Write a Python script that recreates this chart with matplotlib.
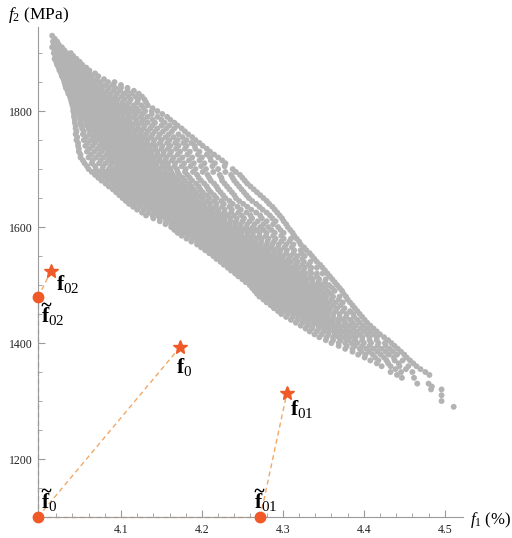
import matplotlib
matplotlib.use("Agg")
import matplotlib.pyplot as plt
import matplotlib.transforms as mtransforms
import numpy as np

plt.rcParams['font.family'] = ['Liberation Serif', 'DejaVu Serif']
plt.rcParams['mathtext.fontset'] = 'custom'
plt.rcParams['mathtext.rm'] = 'Liberation Serif'
plt.rcParams['mathtext.it'] = 'Liberation Serif:italic'
plt.rcParams['mathtext.bf'] = 'Liberation Serif:bold'

# ---------------- data ----------------
# key points (f1 in %, f2 in MPa)
f0 = (4.173, 1393)
f01 = (4.305, 1314)
f02 = (4.0136, 1524)
f0_t = (3.9975, 1100)
f01_t = (4.272, 1100)
f02_t = (3.9975, 1479)

x_ticks = [4.1, 4.2, 4.3, 4.4, 4.5]
y_ticks = [1200, 1400, 1600, 1800]

# scatter cloud, set A: rows of f2 values with their f1 values
cloud_f2_rows_a = [1930, 1920, 1910, 1900, 1890, 1880, 1870, 1860, 1850, 1840,
                   1830, 1820, 1810, 1800, 1790, 1780, 1770, 1760, 1750, 1740,
                   1730, 1720, 1710, 1700, 1690, 1680, 1670, 1660, 1650, 1640,
                   1630, 1620, 1610, 1600, 1590, 1580, 1570, 1560, 1550, 1540,
                   1530, 1520, 1510, 1500, 1490, 1480, 1470, 1460, 1450, 1440,
                   1430, 1420, 1410, 1400, 1390, 1380, 1370, 1360, 1350, 1340,
                   1330, 1320, 1310, 1300, 1290]
cloud_f1_rows_a = [
    [4.015],
    [4.016, 4.021],
    [4.015, 4.020, 4.027],
    [4.017, 4.022, 4.028, 4.033, 4.038],
    [4.018, 4.023, 4.029, 4.034, 4.040, 4.045],
    [4.021, 4.026, 4.031, 4.037, 4.042, 4.047, 4.052],
    [4.024, 4.029, 4.034, 4.039, 4.045, 4.050, 4.055, 4.061],
    [4.027, 4.032, 4.037, 4.042, 4.048, 4.053, 4.058, 4.064, 4.072],
    [4.030, 4.035, 4.040, 4.046, 4.051, 4.056, 4.062, 4.068, 4.075, 4.084, 4.092],
    [4.032, 4.038, 4.043, 4.048, 4.054, 4.059, 4.065, 4.071, 4.077, 4.085, 4.093, 4.100, 4.108],
    [4.035, 4.041, 4.046, 4.051, 4.057, 4.062, 4.068, 4.074, 4.080, 4.087, 4.095, 4.104, 4.113, 4.122],
    [4.038, 4.043, 4.049, 4.054, 4.060, 4.065, 4.071, 4.077, 4.083, 4.089, 4.096, 4.104, 4.112, 4.121, 4.129],
    [4.040, 4.046, 4.051, 4.057, 4.062, 4.068, 4.074, 4.080, 4.086, 4.092, 4.099, 4.107, 4.116, 4.125, 4.133],
    [4.041, 4.047, 4.053, 4.058, 4.064, 4.070, 4.076, 4.081, 4.087, 4.093, 4.099, 4.106, 4.114, 4.122, 4.130, 4.138, 4.145],
    [4.042, 4.049, 4.055, 4.061, 4.067, 4.072, 4.078, 4.084, 4.090, 4.096, 4.102, 4.109, 4.116, 4.124, 4.133, 4.145, 4.157],
    [4.043, 4.050, 4.057, 4.063, 4.069, 4.075, 4.081, 4.087, 4.093, 4.099, 4.105, 4.111, 4.118, 4.125, 4.133, 4.142, 4.154, 4.166],
    [4.044, 4.052, 4.060, 4.066, 4.072, 4.078, 4.084, 4.090, 4.096, 4.102, 4.108, 4.114, 4.121, 4.128, 4.136, 4.145, 4.156, 4.166, 4.175],
    [4.044, 4.053, 4.061, 4.068, 4.075, 4.081, 4.087, 4.093, 4.099, 4.105, 4.111, 4.117, 4.124, 4.131, 4.139, 4.148, 4.159, 4.171, 4.183],
    [4.045, 4.054, 4.063, 4.071, 4.078, 4.084, 4.090, 4.096, 4.102, 4.108, 4.114, 4.120, 4.126, 4.133, 4.141, 4.150, 4.160, 4.170, 4.181, 4.192],
    [4.047, 4.056, 4.065, 4.074, 4.081, 4.087, 4.093, 4.099, 4.105, 4.111, 4.117, 4.123, 4.129, 4.136, 4.143, 4.151, 4.161, 4.171, 4.181, 4.191, 4.201],
    [4.048, 4.058, 4.067, 4.076, 4.084, 4.090, 4.096, 4.102, 4.108, 4.114, 4.120, 4.126, 4.132, 4.138, 4.145, 4.153, 4.162, 4.173, 4.185, 4.197, 4.210],
    [4.050, 4.060, 4.069, 4.078, 4.086, 4.093, 4.099, 4.105, 4.111, 4.117, 4.123, 4.129, 4.135, 4.141, 4.148, 4.156, 4.165, 4.176, 4.188, 4.200, 4.210, 4.220],
    [4.055, 4.064, 4.073, 4.081, 4.089, 4.096, 4.102, 4.108, 4.114, 4.120, 4.126, 4.132, 4.138, 4.144, 4.151, 4.158, 4.167, 4.178, 4.190, 4.203, 4.216, 4.229],
    [4.060, 4.069, 4.077, 4.085, 4.092, 4.099, 4.105, 4.111, 4.117, 4.123, 4.129, 4.135, 4.141, 4.147, 4.154, 4.161, 4.169, 4.180, 4.192, 4.205, 4.220, 4.238],
    [4.068, 4.076, 4.083, 4.090, 4.097, 4.103, 4.109, 4.115, 4.121, 4.127, 4.133, 4.139, 4.145, 4.151, 4.157, 4.164, 4.172, 4.182, 4.194, 4.207, 4.222, 4.236, 4.247],
    [4.076, 4.084, 4.091, 4.098, 4.104, 4.110, 4.116, 4.122, 4.128, 4.134, 4.140, 4.146, 4.152, 4.158, 4.164, 4.171, 4.179, 4.188, 4.199, 4.211, 4.225, 4.240, 4.253],
    [4.085, 4.093, 4.100, 4.106, 4.112, 4.118, 4.124, 4.130, 4.136, 4.142, 4.148, 4.154, 4.160, 4.166, 4.172, 4.179, 4.187, 4.196, 4.206, 4.218, 4.231, 4.246, 4.260],
    [4.094, 4.102, 4.108, 4.114, 4.120, 4.126, 4.132, 4.138, 4.144, 4.150, 4.156, 4.162, 4.168, 4.174, 4.180, 4.186, 4.193, 4.201, 4.211, 4.223, 4.237, 4.252, 4.268],
    [4.102, 4.109, 4.116, 4.122, 4.128, 4.134, 4.140, 4.146, 4.152, 4.158, 4.164, 4.170, 4.176, 4.182, 4.188, 4.194, 4.201, 4.209, 4.218, 4.229, 4.242, 4.258, 4.276],
    [4.110, 4.118, 4.125, 4.131, 4.137, 4.143, 4.149, 4.155, 4.161, 4.167, 4.173, 4.179, 4.185, 4.191, 4.197, 4.203, 4.210, 4.218, 4.227, 4.238, 4.251, 4.267, 4.283],
    [4.120, 4.128, 4.135, 4.141, 4.147, 4.153, 4.159, 4.165, 4.171, 4.177, 4.183, 4.189, 4.195, 4.201, 4.207, 4.213, 4.220, 4.228, 4.237, 4.248, 4.261, 4.275, 4.290],
    [4.131, 4.139, 4.146, 4.152, 4.158, 4.164, 4.170, 4.176, 4.182, 4.188, 4.194, 4.200, 4.206, 4.212, 4.218, 4.225, 4.232, 4.240, 4.249, 4.260, 4.272, 4.284, 4.296],
    [4.148, 4.156, 4.162, 4.168, 4.174, 4.180, 4.186, 4.192, 4.198, 4.204, 4.210, 4.216, 4.222, 4.228, 4.235, 4.242, 4.250, 4.259, 4.269, 4.280, 4.291, 4.301],
    [4.162, 4.169, 4.175, 4.181, 4.187, 4.193, 4.199, 4.205, 4.211, 4.217, 4.223, 4.229, 4.235, 4.241, 4.248, 4.255, 4.263, 4.272, 4.282, 4.294, 4.306],
    [4.170, 4.177, 4.183, 4.189, 4.195, 4.201, 4.207, 4.213, 4.219, 4.225, 4.231, 4.237, 4.243, 4.249, 4.256, 4.263, 4.271, 4.280, 4.290, 4.301, 4.312],
    [4.181, 4.188, 4.194, 4.200, 4.206, 4.212, 4.218, 4.224, 4.230, 4.236, 4.242, 4.248, 4.254, 4.260, 4.267, 4.274, 4.282, 4.291, 4.301, 4.310, 4.317],
    [4.194, 4.201, 4.207, 4.213, 4.219, 4.225, 4.231, 4.237, 4.243, 4.249, 4.255, 4.261, 4.267, 4.273, 4.280, 4.287, 4.295, 4.304, 4.313, 4.322],
    [4.204, 4.211, 4.217, 4.223, 4.229, 4.235, 4.241, 4.247, 4.253, 4.259, 4.265, 4.271, 4.277, 4.283, 4.290, 4.297, 4.305, 4.314, 4.322, 4.329],
    [4.214, 4.221, 4.227, 4.233, 4.239, 4.245, 4.251, 4.257, 4.263, 4.269, 4.275, 4.281, 4.287, 4.294, 4.301, 4.309, 4.318, 4.327, 4.336],
    [4.223, 4.230, 4.236, 4.242, 4.248, 4.254, 4.260, 4.266, 4.272, 4.278, 4.284, 4.290, 4.296, 4.303, 4.310, 4.318, 4.326, 4.334, 4.342],
    [4.232, 4.239, 4.245, 4.251, 4.257, 4.263, 4.269, 4.275, 4.281, 4.287, 4.293, 4.299, 4.305, 4.312, 4.319, 4.327, 4.335, 4.342, 4.349],
    [4.241, 4.248, 4.254, 4.260, 4.266, 4.272, 4.278, 4.284, 4.290, 4.296, 4.302, 4.308, 4.314, 4.321, 4.328, 4.335, 4.342, 4.349, 4.355],
    [4.250, 4.257, 4.263, 4.269, 4.275, 4.281, 4.287, 4.293, 4.299, 4.305, 4.311, 4.317, 4.323, 4.330, 4.337, 4.345, 4.353, 4.361],
    [4.259, 4.266, 4.272, 4.278, 4.284, 4.290, 4.296, 4.302, 4.308, 4.314, 4.320, 4.326, 4.333, 4.340, 4.348, 4.357, 4.367],
    [4.265, 4.272, 4.279, 4.285, 4.291, 4.297, 4.303, 4.309, 4.315, 4.321, 4.327, 4.333, 4.340, 4.347, 4.355, 4.364, 4.373],
    [4.271, 4.279, 4.286, 4.292, 4.298, 4.304, 4.310, 4.316, 4.322, 4.328, 4.334, 4.340, 4.347, 4.354, 4.362, 4.370, 4.378],
    [4.280, 4.288, 4.295, 4.301, 4.307, 4.313, 4.319, 4.325, 4.331, 4.337, 4.343, 4.350, 4.357, 4.365, 4.374, 4.383],
    [4.289, 4.297, 4.304, 4.310, 4.316, 4.322, 4.328, 4.334, 4.340, 4.346, 4.352, 4.359, 4.367, 4.376, 4.389],
    [4.298, 4.306, 4.313, 4.319, 4.325, 4.331, 4.337, 4.343, 4.349, 4.355, 4.362, 4.370, 4.379, 4.387, 4.395],
    [4.310, 4.318, 4.325, 4.331, 4.337, 4.343, 4.349, 4.355, 4.361, 4.368, 4.375, 4.383, 4.392, 4.401],
    [4.322, 4.330, 4.337, 4.344, 4.350, 4.356, 4.362, 4.368, 4.375, 4.382, 4.390, 4.399, 4.408],
    [4.333, 4.342, 4.350, 4.357, 4.363, 4.369, 4.376, 4.383, 4.391, 4.400, 4.408, 4.416],
    [4.345, 4.354, 4.362, 4.369, 4.376, 4.383, 4.390, 4.398, 4.407, 4.416, 4.425],
    [4.360, 4.369, 4.377, 4.385, 4.392, 4.400, 4.409, 4.418, 4.426, 4.434],
    [4.377, 4.386, 4.395, 4.403, 4.412, 4.422, 4.432, 4.442],
    [4.393, 4.402, 4.411, 4.421, 4.431, 4.441, 4.450],
    [4.408, 4.418, 4.428, 4.438, 4.448, 4.457],
    [4.422, 4.433, 4.444, 4.455, 4.465],
    [4.433, 4.446, 4.460, 4.476],
    [4.447, 4.462],
    [4.466, 4.480],
    [4.483, 4.496],
    [4.496],
    [4.496],
    [4.511],
]

# scatter cloud, set B: rows in between those of set A
cloud_f2_rows_b = [1925, 1915, 1905, 1895, 1885, 1875, 1865, 1855, 1845, 1835,
                   1825, 1815, 1805, 1795, 1785, 1775, 1765, 1755, 1745, 1735,
                   1725, 1715, 1705, 1695, 1685, 1675, 1665, 1655, 1645, 1635,
                   1625, 1615, 1605, 1595, 1585, 1575, 1565, 1555, 1545, 1535,
                   1525, 1515, 1505, 1495, 1485, 1475, 1465, 1455, 1445, 1435,
                   1425, 1415, 1405, 1395, 1385, 1375, 1365, 1355, 1345, 1325]
cloud_f1_rows_b = [
    [4.018],
    [4.017, 4.023],
    [4.018, 4.024, 4.030],
    [4.019, 4.025, 4.031, 4.036, 4.041],
    [4.020, 4.026, 4.032, 4.038, 4.044, 4.049],
    [4.023, 4.028, 4.034, 4.040, 4.046, 4.052, 4.057],
    [4.026, 4.031, 4.037, 4.043, 4.049, 4.055, 4.061, 4.068],
    [4.029, 4.034, 4.040, 4.045, 4.051, 4.057, 4.063, 4.070, 4.079],
    [4.031, 4.037, 4.043, 4.049, 4.055, 4.061, 4.067, 4.074, 4.081, 4.090, 4.100],
    [4.034, 4.040, 4.046, 4.052, 4.058, 4.064, 4.070, 4.076, 4.083, 4.091, 4.099, 4.108, 4.116],
    [4.037, 4.043, 4.049, 4.055, 4.061, 4.067, 4.073, 4.079, 4.086, 4.093, 4.101, 4.109, 4.118, 4.126],
    [4.039, 4.045, 4.051, 4.057, 4.063, 4.069, 4.075, 4.081, 4.087, 4.094, 4.102, 4.110, 4.120, 4.131],
    [4.041, 4.047, 4.053, 4.059, 4.065, 4.071, 4.077, 4.083, 4.089, 4.096, 4.103, 4.111, 4.119, 4.128, 4.139],
    [4.042, 4.048, 4.054, 4.060, 4.066, 4.072, 4.078, 4.084, 4.090, 4.096, 4.103, 4.110, 4.118, 4.127, 4.138, 4.151],
    [4.043, 4.050, 4.056, 4.062, 4.068, 4.074, 4.080, 4.086, 4.092, 4.098, 4.104, 4.111, 4.119, 4.128, 4.139, 4.150, 4.161],
    [4.044, 4.051, 4.058, 4.065, 4.071, 4.077, 4.083, 4.089, 4.095, 4.101, 4.107, 4.114, 4.121, 4.129, 4.139, 4.150, 4.160, 4.170],
    [4.045, 4.054, 4.062, 4.069, 4.075, 4.081, 4.087, 4.093, 4.099, 4.105, 4.111, 4.118, 4.125, 4.133, 4.142, 4.152, 4.163, 4.179],
    [4.046, 4.057, 4.066, 4.073, 4.079, 4.085, 4.091, 4.097, 4.103, 4.109, 4.115, 4.122, 4.129, 4.137, 4.146, 4.155, 4.165, 4.176, 4.188],
    [4.047, 4.059, 4.068, 4.076, 4.082, 4.088, 4.094, 4.100, 4.106, 4.112, 4.118, 4.125, 4.132, 4.140, 4.148, 4.157, 4.167, 4.177, 4.187, 4.197],
    [4.048, 4.061, 4.071, 4.079, 4.086, 4.092, 4.098, 4.104, 4.110, 4.116, 4.122, 4.128, 4.135, 4.142, 4.150, 4.158, 4.168, 4.179, 4.192, 4.206],
    [4.050, 4.063, 4.073, 4.082, 4.089, 4.095, 4.101, 4.107, 4.113, 4.119, 4.125, 4.131, 4.138, 4.145, 4.152, 4.160, 4.170, 4.182, 4.195, 4.206, 4.215],
    [4.053, 4.065, 4.075, 4.084, 4.091, 4.098, 4.104, 4.110, 4.116, 4.122, 4.128, 4.134, 4.141, 4.148, 4.155, 4.163, 4.172, 4.184, 4.197, 4.211, 4.225],
    [4.058, 4.068, 4.078, 4.087, 4.095, 4.101, 4.107, 4.113, 4.119, 4.125, 4.131, 4.137, 4.144, 4.151, 4.158, 4.166, 4.175, 4.186, 4.199, 4.213, 4.228],
    [4.064, 4.073, 4.081, 4.088, 4.094, 4.100, 4.106, 4.112, 4.118, 4.124, 4.130, 4.136, 4.142, 4.148, 4.155, 4.162, 4.170, 4.179, 4.189, 4.201, 4.214, 4.229, 4.242],
    [4.072, 4.080, 4.087, 4.094, 4.101, 4.107, 4.113, 4.119, 4.125, 4.131, 4.137, 4.143, 4.149, 4.155, 4.161, 4.168, 4.176, 4.185, 4.196, 4.209, 4.224, 4.238, 4.250],
    [4.081, 4.089, 4.096, 4.102, 4.108, 4.114, 4.120, 4.126, 4.132, 4.138, 4.144, 4.150, 4.156, 4.162, 4.169, 4.176, 4.184, 4.193, 4.203, 4.215, 4.228, 4.243, 4.256],
    [4.090, 4.098, 4.105, 4.111, 4.117, 4.123, 4.129, 4.135, 4.141, 4.147, 4.153, 4.159, 4.165, 4.171, 4.177, 4.183, 4.190, 4.198, 4.208, 4.220, 4.234, 4.249, 4.264],
    [4.098, 4.106, 4.113, 4.119, 4.125, 4.131, 4.137, 4.143, 4.149, 4.155, 4.161, 4.167, 4.173, 4.179, 4.185, 4.191, 4.198, 4.206, 4.215, 4.226, 4.240, 4.255, 4.272],
    [4.106, 4.114, 4.121, 4.128, 4.134, 4.140, 4.146, 4.152, 4.158, 4.164, 4.170, 4.176, 4.182, 4.188, 4.194, 4.200, 4.207, 4.215, 4.224, 4.234, 4.246, 4.262, 4.280],
    [4.115, 4.123, 4.130, 4.137, 4.143, 4.149, 4.155, 4.161, 4.167, 4.173, 4.179, 4.185, 4.191, 4.197, 4.203, 4.210, 4.217, 4.225, 4.234, 4.244, 4.256, 4.271, 4.287],
    [4.126, 4.134, 4.141, 4.148, 4.154, 4.160, 4.166, 4.172, 4.178, 4.184, 4.190, 4.196, 4.202, 4.208, 4.214, 4.221, 4.228, 4.236, 4.245, 4.255, 4.267, 4.280, 4.293],
    [4.140, 4.148, 4.155, 4.161, 4.167, 4.173, 4.179, 4.185, 4.191, 4.197, 4.203, 4.209, 4.215, 4.221, 4.228, 4.235, 4.243, 4.252, 4.262, 4.274, 4.287, 4.299],
    [4.155, 4.162, 4.168, 4.174, 4.180, 4.186, 4.192, 4.198, 4.204, 4.210, 4.216, 4.222, 4.228, 4.234, 4.241, 4.248, 4.256, 4.265, 4.276, 4.288, 4.304],
    [4.166, 4.173, 4.179, 4.185, 4.191, 4.197, 4.203, 4.209, 4.215, 4.221, 4.227, 4.233, 4.239, 4.245, 4.252, 4.259, 4.267, 4.276, 4.286, 4.297, 4.309],
    [4.175, 4.182, 4.189, 4.195, 4.201, 4.207, 4.213, 4.219, 4.225, 4.231, 4.237, 4.243, 4.249, 4.256, 4.263, 4.271, 4.279, 4.288, 4.298, 4.314],
    [4.187, 4.194, 4.200, 4.206, 4.212, 4.218, 4.224, 4.230, 4.236, 4.242, 4.248, 4.254, 4.260, 4.266, 4.273, 4.281, 4.289, 4.298, 4.308, 4.320],
    [4.199, 4.206, 4.212, 4.218, 4.224, 4.230, 4.236, 4.242, 4.248, 4.254, 4.260, 4.266, 4.272, 4.279, 4.286, 4.294, 4.302, 4.311, 4.326],
    [4.209, 4.216, 4.222, 4.228, 4.234, 4.240, 4.246, 4.252, 4.258, 4.264, 4.270, 4.276, 4.282, 4.289, 4.296, 4.304, 4.313, 4.323, 4.333],
    [4.218, 4.225, 4.231, 4.237, 4.243, 4.249, 4.255, 4.261, 4.267, 4.273, 4.279, 4.285, 4.292, 4.299, 4.307, 4.315, 4.324, 4.339],
    [4.227, 4.234, 4.240, 4.246, 4.252, 4.258, 4.264, 4.270, 4.276, 4.282, 4.288, 4.294, 4.301, 4.308, 4.316, 4.324, 4.332, 4.346],
    [4.236, 4.243, 4.249, 4.255, 4.261, 4.267, 4.273, 4.279, 4.285, 4.291, 4.297, 4.303, 4.310, 4.317, 4.325, 4.334, 4.352],
    [4.245, 4.252, 4.258, 4.264, 4.270, 4.276, 4.282, 4.288, 4.294, 4.300, 4.306, 4.312, 4.319, 4.326, 4.334, 4.342, 4.358],
    [4.254, 4.261, 4.267, 4.273, 4.279, 4.285, 4.291, 4.297, 4.303, 4.309, 4.315, 4.321, 4.328, 4.336, 4.344, 4.352, 4.364],
    [4.262, 4.269, 4.275, 4.281, 4.287, 4.293, 4.299, 4.305, 4.311, 4.317, 4.323, 4.330, 4.337, 4.344, 4.352, 4.361, 4.370],
    [4.268, 4.275, 4.282, 4.288, 4.294, 4.300, 4.306, 4.312, 4.318, 4.324, 4.330, 4.337, 4.344, 4.351, 4.359, 4.375],
    [4.276, 4.283, 4.290, 4.296, 4.302, 4.308, 4.314, 4.320, 4.326, 4.332, 4.338, 4.345, 4.352, 4.360, 4.369, 4.380],
    [4.285, 4.292, 4.299, 4.305, 4.311, 4.317, 4.323, 4.329, 4.335, 4.341, 4.347, 4.354, 4.362, 4.371, 4.386],
    [4.294, 4.301, 4.308, 4.314, 4.320, 4.326, 4.332, 4.338, 4.344, 4.350, 4.357, 4.365, 4.374, 4.383, 4.392],
    [4.304, 4.312, 4.319, 4.325, 4.331, 4.337, 4.343, 4.349, 4.355, 4.362, 4.370, 4.378, 4.388, 4.398],
    [4.316, 4.324, 4.331, 4.338, 4.344, 4.350, 4.356, 4.362, 4.369, 4.377, 4.386, 4.395, 4.404],
    [4.328, 4.336, 4.344, 4.351, 4.357, 4.364, 4.371, 4.379, 4.387, 4.396, 4.404, 4.412],
    [4.339, 4.348, 4.356, 4.364, 4.371, 4.379, 4.387, 4.395, 4.404, 4.412, 4.420],
    [4.353, 4.362, 4.371, 4.380, 4.389, 4.398, 4.407, 4.416, 4.430],
    [4.369, 4.379, 4.389, 4.398, 4.407, 4.417, 4.427, 4.438],
    [4.386, 4.397, 4.407, 4.417, 4.427, 4.436, 4.446],
    [4.401, 4.414, 4.425, 4.437, 4.453],
    [4.416, 4.430, 4.443, 4.461],
    [4.439, 4.452, 4.470],
    [4.441, 4.481],
    [4.484],
]


def rows_to_points(f2_rows, f1_rows):
    xs = np.concatenate([np.array(r) for r in f1_rows])
    ys = np.concatenate([np.full(len(r), y, dtype=float) for r, y in zip(f1_rows, f2_rows)])
    return xs, ys


xa, ya = rows_to_points(cloud_f2_rows_a, cloud_f1_rows_a)
xb, yb = rows_to_points(cloud_f2_rows_b, cloud_f1_rows_b)
cloud_f1 = np.concatenate([xa, xb])
cloud_f2 = np.concatenate([ya, yb])

# ---------------- figure ----------------
W, H = 512, 538
fig = plt.figure(figsize=(W / 100, H / 100), dpi=100)
ax = fig.add_axes([38 / W, (H - 517) / H, (463 - 38) / W, (517 - 27) / H])

mark_col = '#EF5A28'
dash_col = '#F2A866'
gray = '#B3B3B3'
axis_col = '#9A9A9A'

ax.scatter(cloud_f1, cloud_f2, s=18, c=gray, edgecolors='none', zorder=1)

dash = dict(color=dash_col, lw=1.0, ls=(0, (3.5, 2.5)), zorder=2, clip_on=False)
ax.plot([f0_t[0], f0[0]], [f0_t[1], f0[1]], **dash)
ax.plot([f01_t[0], f01[0]], [f01_t[1], f01[1]], **dash)
ax.plot([f02_t[0], f02[0]], [f02_t[1], f02[1]], **dash)
ax.plot([f0_t[0], f01_t[0]], [f0_t[1], f01_t[1]], **dash)
ax.plot([f0_t[0], f02_t[0]], [f0_t[1], f02_t[1]], **dash)

stars = [f0, f01, f02]
dots = [f0_t, f01_t, f02_t]
ax.plot([p[0] for p in stars], [p[1] for p in stars], ls='none', marker='*',
        ms=10, color=mark_col, mec=mark_col, zorder=4, clip_on=False)
ax.plot([p[0] for p in dots], [p[1] for p in dots], ls='none', marker='o',
        ms=7.5, color=mark_col, mec=mark_col, zorder=4, clip_on=False)

FS = 15.5


def label(xy, sub, off_px, tilde=False):
    dx, dy = off_px[0] * 0.72, off_px[1] * 0.72
    ax.annotate(r'$\mathbf{f}_{%s}$' % sub, xy, xytext=(dx, dy), textcoords='offset points',
                ha='left', va='baseline', fontsize=FS, color='black', zorder=5,
                annotation_clip=False)
    if tilde:
        tr = mtransforms.offset_copy(ax.transData, fig=fig, x=dx + 3.6, y=dy + 12.8,
                                     units='points')
        ax.plot([xy[0]], [xy[1]], ls='none', marker=r'$\sim$', ms=6.5, color='black',
                mec='black', mew=0.5, transform=tr, zorder=5, clip_on=False)


label(f0, '0', (-4, -26))
label(f01, '01', (3, -22))
label(f02, '02', (5, -19))
label(f02_t, '02', (3, -25), tilde=True)
label(f0_t, '0', (3, 9), tilde=True)
label(f01_t, '01', (-6, 9), tilde=True)

ax.set_xlim(3.9975, 4.5225)
ax.set_ylim(1100, 1945)

for s in ['top', 'right']:
    ax.spines[s].set_visible(False)
for s in ['left', 'bottom']:
    ax.spines[s].set_color(axis_col)
    ax.spines[s].set_linewidth(0.8)

ax.set_xticks(x_ticks)
ax.set_xticklabels([f'{v:.1f}' for v in x_ticks])
ax.set_yticks(y_ticks)
ax.set_yticklabels([str(v) for v in y_ticks])
ax.set_xticks(np.arange(4.02, 4.52, 0.02), minor=True)
ax.set_yticks(np.arange(1150, 1945, 50), minor=True)
ax.tick_params(which='both', direction='in', color=axis_col, labelcolor='#222222',
               labelsize=8.5)
ax.tick_params(which='major', length=5, width=0.8)
ax.tick_params(which='minor', length=3, width=0.6)
ax.tick_params(axis='x', pad=5)
ax.tick_params(axis='y', pad=4)

fig.text(8 / W, 1 - 19 / H, r'$f_2$ (MPa)', fontsize=12.5, ha='left', va='baseline')
fig.text(470 / W, 1 - 524 / H, r'$f_1$ (%)', fontsize=12, ha='left', va='baseline')

fig.savefig('out.png', dpi=100)
